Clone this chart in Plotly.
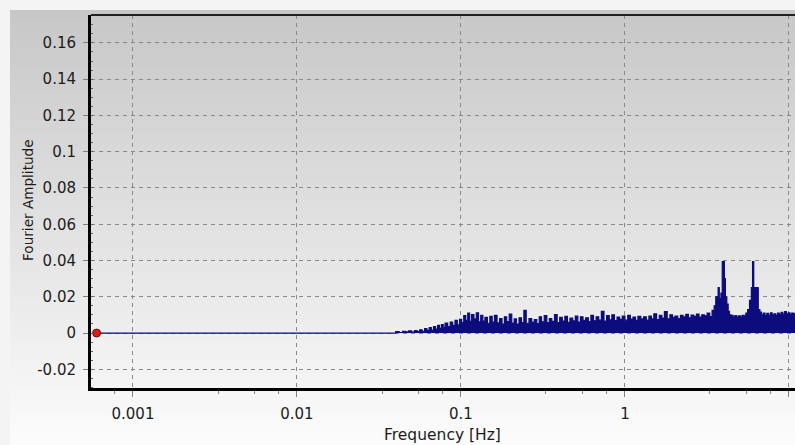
import plotly.graph_objects as go

# Fourier amplitude spectrum (upper outline of the dense FFT trace)
freq_hz = [
    0.0006, 0.039,
    0.040, 0.042, 0.044, 0.046, 0.048, 0.050, 0.052, 0.054, 0.056, 0.058,
    0.060, 0.062, 0.064, 0.066, 0.068, 0.070, 0.072, 0.074, 0.076, 0.078,
    0.080, 0.083, 0.086, 0.089, 0.092, 0.095, 0.098,
    0.101, 0.104, 0.107, 0.110, 0.113, 0.116, 0.120, 0.124, 0.128, 0.132,
    0.136, 0.140, 0.145, 0.150, 0.155, 0.160, 0.166, 0.172, 0.178, 0.184,
    0.190, 0.197, 0.204, 0.211, 0.218, 0.226, 0.234, 0.242, 0.250, 0.260,
    0.270, 0.280, 0.290, 0.300, 0.310, 0.322, 0.334, 0.346, 0.358, 0.372,
    0.386, 0.400, 0.415, 0.430, 0.446, 0.462, 0.480, 0.498, 0.516, 0.535,
    0.555, 0.576, 0.598, 0.620, 0.643, 0.667, 0.692, 0.718, 0.745, 0.773,
    0.802, 0.832, 0.863, 0.895, 0.928, 0.963,
    1.00, 1.04, 1.08, 1.12, 1.16, 1.20, 1.25, 1.30, 1.35, 1.40, 1.45, 1.50,
    1.56, 1.62, 1.68, 1.74, 1.81, 1.88, 1.95, 2.02, 2.10, 2.18, 2.26, 2.35,
    2.44, 2.53, 2.63, 2.73, 2.83, 2.94, 3.05, 3.17, 3.29, 3.40,
    3.50, 3.58, 3.64, 3.70, 3.76, 3.85, 3.92, 3.98, 4.04, 4.10, 4.18, 4.26,
    4.34, 4.45, 4.56, 4.68, 4.80, 4.92, 5.05, 5.18, 5.32, 5.46, 5.60,
    5.75, 5.90, 6.00, 6.10, 6.25, 6.40, 6.50, 6.65,
    6.80, 6.97, 7.15, 7.33, 7.52, 7.71, 7.90, 8.10, 8.30, 8.51, 8.73, 8.95,
    9.18, 9.41, 9.65, 9.90, 10.15, 10.4, 10.7, 11.0,
]
amplitude = [
    0.0, 0.0,
    0.0008, 0.0003, 0.0010, 0.0006, 0.0012, 0.0005, 0.0014, 0.0008, 0.0018, 0.0010,
    0.0024, 0.0015, 0.0030, 0.0016, 0.0035, 0.0022, 0.0042, 0.0026, 0.0046, 0.0032,
    0.0055, 0.0035, 0.0060, 0.0042, 0.0070, 0.0045, 0.0076,
    0.0058, 0.0096, 0.0070, 0.0110, 0.0064, 0.0102, 0.0078, 0.0112, 0.0062, 0.0098,
    0.0066, 0.0086, 0.0054, 0.0092, 0.0060, 0.0097, 0.0056, 0.0080, 0.0050, 0.0090,
    0.0063, 0.0104, 0.0055, 0.0078, 0.0050, 0.0084, 0.0058, 0.0125, 0.0054, 0.0080,
    0.0060, 0.0074, 0.0052, 0.0090, 0.0062, 0.0096, 0.0057, 0.0080, 0.0064, 0.0102,
    0.0058, 0.0086, 0.0066, 0.0092, 0.0059, 0.0082, 0.0067, 0.0094, 0.0061, 0.0090,
    0.0070, 0.0084, 0.0063, 0.0098, 0.0068, 0.0090, 0.0072, 0.0120, 0.0066, 0.0096,
    0.0073, 0.0101, 0.0069, 0.0088, 0.0076, 0.0093,
    0.0071, 0.0098, 0.0077, 0.0088, 0.0070, 0.0092, 0.0078, 0.0090, 0.0072, 0.0094, 0.0079, 0.0106,
    0.0074, 0.0097, 0.0083, 0.0118, 0.0078, 0.0101, 0.0087, 0.0094, 0.0080, 0.0098, 0.0089, 0.0103,
    0.0084, 0.0099, 0.0092, 0.0105, 0.0088, 0.0101, 0.0095, 0.0110, 0.0091, 0.0125,
    0.0150, 0.0200, 0.0175, 0.0250, 0.0190, 0.0220, 0.0394, 0.0394, 0.0300, 0.0200, 0.0160, 0.0120,
    0.0100, 0.0098, 0.0090, 0.0096, 0.0088, 0.0095, 0.0090, 0.0098, 0.0095, 0.0110, 0.0130,
    0.0180, 0.0250, 0.0394, 0.0250, 0.0250, 0.0250, 0.0130, 0.0115,
    0.0100, 0.0110, 0.0096, 0.0108, 0.0098, 0.0112, 0.0100, 0.0106, 0.0098, 0.0110, 0.0102, 0.0114,
    0.0104, 0.0118, 0.0106, 0.0112, 0.0104, 0.0110, 0.0106, 0.0112,
]

# Selected point marker
marker_freq = [0.0006]
marker_amp = [0.0]

# Axis ticks
x_tickvals = [0.001, 0.01, 0.1, 1, 10]
x_ticktext = ["0.001", "0.01", "0.1", "1", "10"]
x_minor = [0.00077, 0.0033, 0.0055, 0.0077, 0.033, 0.055, 0.077,
           0.33, 0.55, 0.77, 3.3, 5.5, 7.7]
y_tickvals = [-0.02, 0, 0.02, 0.04, 0.06, 0.08, 0.1, 0.12, 0.14, 0.16]
y_ticktext = ["-0.02", "0", "0.02", "0.04", "0.06", "0.08", "0.1", "0.12", "0.14", "0.16"]

W, H = 795, 445
L, T, B = 91, 15, 388          # plot-area edges in pixels
R = 795
PW, PH = R - L, B - T

def px_x(px):
    return (px - L) / PW

def px_y(py):
    return (B - py) / PH

NAVY = "#0c0c7c"
FONT = "DejaVu Sans, Verdana, sans-serif"
TXT = "#1c1c1c"

fig = go.Figure()

fig.add_trace(go.Scatter(
    x=freq_hz, y=amplitude, mode="lines",
    line=dict(color=NAVY, width=1.2, shape="hv"),
    fill="tozeroy", fillcolor=NAVY,
    hoverinfo="skip", showlegend=False,
))
fig.add_trace(go.Scatter(
    x=marker_freq, y=marker_amp, mode="markers",
    marker=dict(symbol="circle", size=8, color="#d81e1e",
                line=dict(color="#7a0a0a", width=1)),
    showlegend=False, cliponaxis=False,
))

# vertical gray gradient behind the whole panel
shapes = []
top_px, bot_px, left_px = 10, 445, 10
n = 87
step = (bot_px - top_px) / n
for i in range(n):
    y0 = top_px + i * step
    g = int(round(199 + (i + 0.5) / n * 53))
    shapes.append(dict(
        type="rect", xref="paper", yref="paper", layer="below",
        x0=px_x(left_px), x1=px_x(W + 2), y0=px_y(y0 + step + 0.5), y1=px_y(y0),
        line=dict(width=0), fillcolor=f"rgb({g},{g},{g})",
    ))
# top border of the plotting area
shapes.append(dict(type="line", xref="paper", yref="paper", x0=0, x1=1, y0=1, y1=1,
                   line=dict(color="#202020", width=2)))

fig.update_layout(
    width=W, height=H,
    margin=dict(l=L, r=W - R, t=T, b=H - B, pad=0),
    paper_bgcolor="#f4f4f4",
    plot_bgcolor="rgba(0,0,0,0)",
    font=dict(family=FONT, size=15, color=TXT),
    shapes=shapes,
    showlegend=False,
    annotations=[
        dict(text="Fourier Amplitude", xref="paper", yref="paper",
             x=px_x(28), y=px_y(200), textangle=-90, showarrow=False,
             font=dict(family=FONT, size=13.6, color=TXT),
             xanchor="center", yanchor="middle"),
        dict(text="Frequency [Hz]", xref="paper", yref="paper",
             x=px_x(442), y=px_y(445), showarrow=False,
             font=dict(family=FONT, size=15.5, color=TXT),
             xanchor="center", yanchor="bottom", borderpad=0),
    ],
)

fig.update_xaxes(
    type="log", range=[-3.256, 1.037],
    tickmode="array", tickvals=x_tickvals, ticktext=x_ticktext,
    ticks="outside", ticklen=6, tickwidth=1, tickcolor="#808080",
    showgrid=True, gridcolor="#8a8a8a", gridwidth=1, griddash="4px,4px",
    showline=True, linecolor="#000000", linewidth=3,
    zeroline=False,
    minor=dict(tickmode="array", tickvals=x_minor, ticks="outside",
               ticklen=3, tickcolor="#808080", showgrid=False),
    ticklabelstandoff=4,
)
fig.update_yaxes(
    range=[-0.0303, 0.1754],
    tickmode="array", tickvals=y_tickvals, ticktext=y_ticktext,
    ticks="outside", ticklen=5, tickwidth=1, tickcolor="#808080",
    showgrid=True, gridcolor="#8a8a8a", gridwidth=1, griddash="4px,4px",
    showline=True, linecolor="#000000", linewidth=3,
    zeroline=False,
    minor=dict(dtick=0.005, ticks="inside", ticklen=2, tickcolor="#606060", showgrid=False),
    ticklabelstandoff=4,
)

fig.write_html("out.html")
